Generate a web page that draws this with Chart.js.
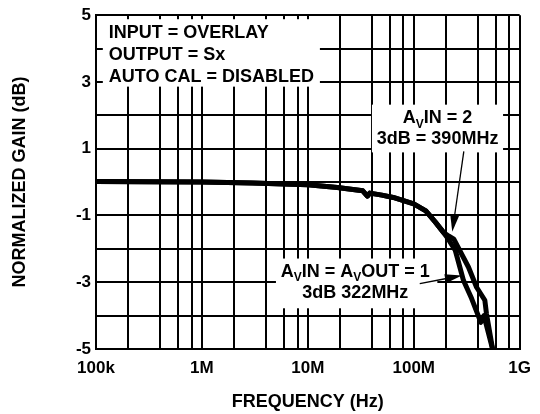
<!DOCTYPE html>
<html lang="en">
<head>
<meta charset="UTF-8">
<title>Normalized Gain vs Frequency</title>
<script src="https://cdn.jsdelivr.net/npm/chart.js"></script>
<style>
  html, body { margin: 0; padding: 0; background: #fff; }
  #wrap { width: 540px; height: 414px; }
</style>
</head>
<body>
<div id="wrap"><canvas id="myChart" width="540" height="414"></canvas></div>
<script>
// shared low-frequency part of both curves (Hz, dB)
var freqLow = [1e5, 3e5, 1e6, 3e6, 1e7, 1.9e7, 3.3e7, 3.65e7, 3.85e7, 5e7, 6.4e7, 1e8, 1.3e8, 1.6e8, 1.9e8];
var gainLow = [0.02, 0.01, 0.0, -0.03, -0.08, -0.16, -0.26, -0.42, -0.33, -0.39, -0.46, -0.65, -0.86, -1.2, -1.5];

// rolloff, AVIN = AVOUT = 1 (3dB 322MHz)
var freqUnity = [2.07e8, 2.47e8, 2.95e8, 3.52e8, 4.3e8, 4.6e8, 5.55e8];
var gainUnity = [-1.66, -2.05, -2.95, -3.49, -4.2, -4.0, -5.0];

// rolloff, AVIN = 2 (3dB 390MHz)
var freqGain2 = [2.15e8, 2.39e8, 3.29e8, 3.92e8, 4.69e8, 4.86e8, 5.55e8];
var gainGain2 = [-1.62, -1.71, -2.55, -3.15, -3.54, -3.94, -5.0];

// axes
var decades = [1e5, 1e6, 1e7, 1e8, 1e9];
var decadeLabels = ['100k', '1M', '10M', '100M', '1G'];
var gridSteps = [1, 2, 4, 6, 8];
var yLabels = [-5, -3, -1, 1, 3, 5];

var mainFont = 'bold 18px "Liberation Sans", Arial, sans-serif';
var subFont = 'bold 12px "Liberation Sans", Arial, sans-serif';

function toPoints(fs, gs) {
    return fs.map(function (f, i) { return { x: f, y: gs[i] }; });
}

var xGrid = [];
decades.forEach(function (d, i) {
    if (i < decades.length - 1) {
        gridSteps.forEach(function (m) { xGrid.push(d * m); });
    } else {
        xGrid.push(d);
    }
});

// annotation boxes, in data units: [f1, f2, dB top, dB bottom]
var boxes = [
    [1.16e5, 1.30e7, 4.88, 2.86],
    [4.03e7, 6.97e8, 2.32, 0.89],
    [5.0e6, 1.67e8, -2.29, -3.78]
];

var notes = [
    { x: 1.32e5, y: 4.46, align: 'left', parts: [{ t: 'INPUT = OVERLAY' }] },
    { x: 1.32e5, y: 3.81, align: 'left', parts: [{ t: 'OUTPUT = Sx' }] },
    { x: 1.32e5, y: 3.15, align: 'left', parts: [{ t: 'AUTO CAL = DISABLED' }] },
    { x: 1.68e8, y: 1.91, align: 'center', parts: [{ t: 'A' }, { t: 'V', sub: true }, { t: 'IN = 2' }] },
    { x: 1.68e8, y: 1.28, align: 'center', parts: [{ t: '3dB = 390MHz' }] },
    { x: 2.81e7, y: -2.69, align: 'center', parts: [{ t: 'A' }, { t: 'V', sub: true }, { t: 'IN = A' }, { t: 'V', sub: true }, { t: 'OUT = 1' }] },
    { x: 2.81e7, y: -3.32, align: 'center', parts: [{ t: '3dB 322MHz' }] }
];

// arrows: from (f, dB) to tip (f, dB)
var arrows = [
    [2.97e8, 0.92, 2.31e8, -1.49],
    [1.14e8, -3.04, 2.85e8, -2.80]
];

function drawRich(ctx, n, px, py) {
    var total = 0;
    n.parts.forEach(function (p) {
        ctx.font = p.sub ? subFont : mainFont;
        p.w = ctx.measureText(p.t).width;
        total += p.w;
    });
    var x = n.align === 'left' ? px : px - total / 2;
    n.parts.forEach(function (p) {
        ctx.font = p.sub ? subFont : mainFont;
        ctx.fillText(p.t, x, py + (p.sub ? 6 : 0));
        x += p.w;
    });
}

function drawArrow(ctx, x1, y1, x2, y2) {
    var a = Math.atan2(y2 - y1, x2 - x1);
    var len = 17, half = 4.5;
    var bx = x2 - len * Math.cos(a), by = y2 - len * Math.sin(a);
    ctx.lineWidth = 1.3;
    ctx.beginPath();
    ctx.moveTo(x1, y1);
    ctx.lineTo(bx, by);
    ctx.stroke();
    ctx.beginPath();
    ctx.moveTo(x2, y2);
    ctx.lineTo(bx + half * Math.sin(a), by - half * Math.cos(a));
    ctx.lineTo(bx - half * Math.sin(a), by + half * Math.cos(a));
    ctx.closePath();
    ctx.fill();
}

var notesPlugin = {
    id: 'notes',
    beforeDatasetsDraw: function (chart) {
        var ctx = chart.ctx, xs = chart.scales.x, ys = chart.scales.y;
        ctx.save();
        ctx.fillStyle = '#fff';
        boxes.forEach(function (b) {
            var x1 = xs.getPixelForValue(b[0]), x2 = xs.getPixelForValue(b[1]);
            var y1 = ys.getPixelForValue(b[2]), y2 = ys.getPixelForValue(b[3]);
            ctx.fillRect(x1, y1, x2 - x1, y2 - y1);
        });
        ctx.restore();
    },
    afterDatasetsDraw: function (chart) {
        var ctx = chart.ctx, xs = chart.scales.x, ys = chart.scales.y;
        ctx.save();
        ctx.fillStyle = '#000';
        ctx.strokeStyle = '#000';
        ctx.textAlign = 'left';
        ctx.textBaseline = 'middle';
        notes.forEach(function (n) {
            drawRich(ctx, n, xs.getPixelForValue(n.x), ys.getPixelForValue(n.y));
        });
        arrows.forEach(function (a) {
            drawArrow(ctx, xs.getPixelForValue(a[0]), ys.getPixelForValue(a[1]),
                xs.getPixelForValue(a[2]), ys.getPixelForValue(a[3]));
        });
        ctx.restore();
    }
};

var lineStyle = {
    borderColor: '#000',
    borderWidth: 5,
    pointRadius: 0,
    tension: 0,
    fill: false,
    borderJoinStyle: 'round',
    borderCapStyle: 'round'
};

var ctx = document.getElementById('myChart').getContext('2d');
var myChart = new Chart(ctx, {
    type: 'line',
    data: {
        datasets: [
            Object.assign({ label: 'AVIN = AVOUT = 1', data: toPoints(freqLow.concat(freqUnity), gainLow.concat(gainUnity)) }, lineStyle),
            Object.assign({ label: 'AVIN = 2', data: toPoints(freqLow.concat(freqGain2), gainLow.concat(gainGain2)) }, lineStyle)
        ]
    },
    plugins: [notesPlugin],
    options: {
        responsive: false,
        animation: false,
        layout: { padding: { left: 0, right: 11, top: 13, bottom: 0 } },
        plugins: { legend: { display: false }, tooltip: { enabled: false } },
        scales: {
            x: {
                type: 'logarithmic',
                min: 1e5,
                max: 1e9,
                afterBuildTicks: function (s) { s.ticks = xGrid.map(function (v) { return { value: v }; }); },
                afterFit: function (s) { s.height = 65; },
                grid: { color: '#000', lineWidth: 2, drawTicks: false },
                border: { color: '#000', width: 2 },
                ticks: {
                    autoSkip: false,
                    maxRotation: 0,
                    padding: 9,
                    color: '#000',
                    font: { family: '"Liberation Sans", Arial, sans-serif', size: 17, weight: 'bold' },
                    callback: function (v) {
                        var i = decades.indexOf(v);
                        return i >= 0 ? decadeLabels[i] : '';
                    }
                },
                title: {
                    display: true,
                    text: 'FREQUENCY (Hz)',
                    color: '#000',
                    font: { family: '"Liberation Sans", Arial, sans-serif', size: 18, weight: 'bold' },
                    padding: { top: 0, bottom: 1 }
                }
            },
            y: {
                min: -5,
                max: 5,
                afterFit: function (s) { s.width = 96; },
                grid: { color: '#000', lineWidth: 2, drawTicks: false },
                border: { color: '#000', width: 2 },
                ticks: {
                    stepSize: 1,
                    padding: 5,
                    color: '#000',
                    font: { family: '"Liberation Sans", Arial, sans-serif', size: 17, weight: 'bold' },
                    callback: function (v) { return yLabels.indexOf(v) >= 0 ? String(v) : ''; }
                },
                title: {
                    display: true,
                    text: 'NORMALIZED GAIN (dB)',
                    color: '#000',
                    font: { family: '"Liberation Sans", Arial, sans-serif', size: 18, weight: 'bold' },
                    padding: { top: 9, bottom: 0 }
                }
            }
        }
    }
});
</script>
</body>
</html>
